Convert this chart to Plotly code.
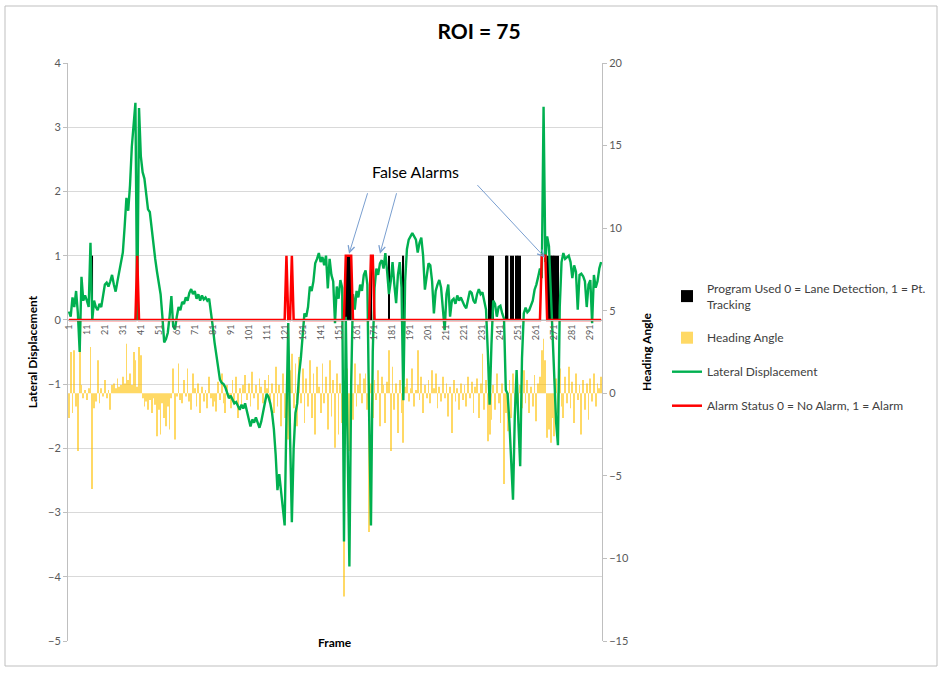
import plotly.graph_objects as go

frames = list(range(1, 298))
tick_labels = [str(v) for v in range(1, 292, 10)]

lateral_displacement = [
    0.13, 0.05, 0.35, 0.20, 0.45, 0.10, -0.50, 0.67, 0.30, 0.38,
    0.30, 0.20, 1.20, 0.00, 0.30, 0.20, 0.15, 0.25, 0.20, 0.35,
    0.55, 0.58, 0.52, 0.60, 0.70, 0.55, 0.44, 0.60, 0.75, 0.90,
    1.05, 1.45, 1.90, 1.70, 2.10, 2.70, 3.05, 3.38, 0.00, 3.30,
    2.55, 2.30, 2.20, 2.00, 1.72, 1.68, 1.40, 1.15, 0.95, 0.75,
    0.58, 0.40, 0.05, -0.35, -0.30, -0.20, 0.05, 0.37, -0.10, -0.15,
    0.05, 0.20, 0.15, 0.28, 0.25, 0.35, 0.30, 0.42, 0.48, 0.40,
    0.45, 0.33, 0.40, 0.30, 0.38, 0.32, 0.35, 0.30, 0.33, 0.15,
    -0.10, -0.35, -0.52, -0.75, -0.93, -0.98, -1.00, -1.05, -1.12, -1.22,
    -1.18, -1.25, -1.30, -1.28, -1.35, -1.40, -1.32, -1.38, -1.30, -1.42,
    -1.50, -1.66, -1.55, -1.60, -1.52, -1.62, -1.68, -1.58, -1.45, -1.30,
    -1.15, -1.20, -1.30, -1.45, -1.70, -2.10, -2.65, -2.40, -2.70, -2.90,
    -3.20, -1.50, -0.05, -1.80, -3.15, -2.00, -1.45, -1.30, -0.85, -0.60,
    -0.20, 0.10, 0.05, 0.20, 0.52, 0.45, 0.60, 0.88, 0.95, 1.04,
    0.90, 0.98, 0.85, 1.00, 0.49, 0.95, 0.70, 0.60, -0.05, 0.52,
    0.33, 0.62, 0.50, -3.45, 0.05, -2.00, -3.84, -1.00, 0.40, 0.16,
    0.45, 0.35, 0.55, 0.45, 0.70, 0.77, 0.55, -1.50, -3.20, -0.50,
    0.50, 0.80, 0.70, 0.88, 0.93, 0.80, 1.04, 0.75, 0.40, 0.60,
    0.90, 0.55, 0.26, 0.70, 0.90, 0.50, -1.25, 0.60, 1.10, 1.25,
    1.30, 1.35, 1.30, 1.25, 1.05, 1.20, 1.28, 1.00, 0.47, 0.70,
    0.88, 0.85, 0.60, 0.10, 0.45, 0.55, 0.62, 0.50, 0.20, -0.16,
    0.40, 0.55, 0.05, 0.30, 0.33, 0.25, 0.38, 0.30, 0.35, 0.28,
    0.22, 0.18, 0.30, 0.45, 0.42, 0.30, 0.26, 0.40, 0.48, 0.40,
    0.43, 0.30, 0.16, -0.50, -1.32, -0.40, 0.30, 0.25, 0.05, 0.20,
    0.22, 0.10, 0.02, -1.09, -1.15, -1.60, -2.18, -2.80, -1.50, -0.78,
    -1.60, -2.28, -0.60, 0.10, 0.19, 0.12, 0.15, 0.22, 0.30, 0.47,
    0.55, 0.67, 0.80, 0.65, 3.32, 0.90, 1.30, 1.15, 0.50, -0.40,
    -1.00, -1.60, -1.95, 0.20, 0.90, 1.04, 0.95, 0.98, 1.00, 0.90,
    0.65, 0.85, 0.75, 0.16, 0.70, 0.72, 0.68, 0.60, 0.20, 0.55,
    0.62, -0.05, 0.70, 0.50, 0.60, 0.80, 0.90,
]

heading_angle = [
    -1.5, 2.5, -1.2, 2.6, -0.8, -3.5, 2.8, 0.5, -0.3, 0.2,
    -0.4, 0.3, 2.8, -5.8, -0.9, -0.5, 2.0, -0.6, 0.3, -0.2,
    0.8, -0.3, 0.2, -1.0, 0.5, 0.6, 0.3, 0.9, 0.4, 0.5,
    1.0, 0.6, 3.0, 0.8, 1.2, 0.5, 2.5, 2.0, 0.4, 2.8,
    2.3, -0.3, -0.8, -0.5, -1.0, -0.4, -1.2, -0.3, -0.7, -2.6,
    -1.0, -2.5, -0.6, -1.5, -2.0, -0.8, -2.2, -0.3, 1.5, -2.8,
    -0.2, 1.8, -0.4, -0.6, 0.8, -0.2, 1.5, -0.5, -1.0, 1.2,
    0.3, -0.8, 0.6, -1.2, 0.4, -0.5, 0.2, -0.9, 1.0, -0.3,
    -0.8, -0.5, -1.1, 0.7, -0.4, 1.2, -0.6, -1.2, 0.5, -0.3,
    -0.9, 0.8, -0.5, 1.0, -1.5, 0.3, -0.7, 0.5, 1.1, -0.4,
    0.6, -0.8, 1.3, -0.3, 0.5, -1.0, 0.9, 0.4, -0.6, 0.8,
    0.3, 1.1, -0.5, 0.6, -1.2, 1.6, -0.8, 0.5, -2.0, 1.2,
    -1.5, 0.8, -2.8, 1.4, 2.4, -0.9, 1.8, -2.0, 2.2, -0.6,
    1.5, -1.8, 0.9, -0.8, 2.0, -1.5, 1.2, -2.5, 1.6, 0.4,
    -1.2, 1.8, -0.6, 1.0, -2.2, 2.0, -1.4, 0.8, -3.3, 1.2,
    -2.5, 0.6, -1.8, -12.3, -2.0, 1.5, -3.5, 0.8, -1.6, 1.8,
    -0.8, 0.5, 1.2, -0.6, 0.9, 1.2, -1.0, -8.4, 0.6, -1.5,
    0.8, -0.4, 1.4, -2.0, 1.0, 0.5, -1.8, 0.7, 2.6, -3.5,
    1.6, -1.0, 0.6, -2.4, 0.8, -1.2, -3.0, 0.4, 0.9, -0.5,
    0.3, 1.5, -0.8, 0.2, 2.6, -0.4, 1.0, -1.2, 0.5, -0.3,
    0.8, -0.6, 1.4, 0.3, 1.2, -0.9, 0.4, -0.5, 1.0, -0.3,
    0.6, -1.4, 0.4, -2.4, 0.8, -0.5, 0.3, -1.0, 0.6, -0.4,
    0.5, -0.8, 1.0, -0.3, 0.7, -1.2, 0.4, 0.9, -1.5, 0.6,
    2.4, -1.0, 0.8, -2.9, -2.5, -1.6, 0.5, -1.0, 1.2, -0.6,
    -1.8, 0.6, -5.5, -1.2, -2.3, 0.8, -1.5, 1.2, -0.7, 1.0,
    -1.4, 0.5, -0.9, 1.4, -0.6, 0.8, -1.2, 0.4, -0.8, 1.1,
    -1.7, 0.6, 1.0, 2.6, 3.3, 2.0, -2.7, -2.2, -3.0, -1.5,
    -2.6, 0.9, -1.2, 1.5, -0.8, -1.5, 1.0, -0.6, 1.6, -0.9,
    0.7, -1.8, 1.2, -0.4, 0.5, -2.5, 0.8, -1.0, 0.6, -1.6,
    0.9, -0.5, 1.2, -0.8, 0.6, 0.3, 1.0,
]

alarm_frames = [39, 122, 125, 155, 156, 157, 158, 169, 170, 264, 265, 266]
program_frames = [14, 155, 156, 157, 158, 169, 179, 187, 235, 236, 237,
                  244, 245, 247, 248, 250, 251, 252,
                  267, 268, 269, 270, 271, 272, 273]

alarm_status = [1 if f in alarm_frames else 0 for f in frames]
program_used = [1 if f in program_frames else 0 for f in frames]

FONT = "Lato, 'Open Sans', sans-serif"
GRID = "#d9d9d9"
AXIS = "#bfbfbf"
TICK = "#595959"

fig = go.Figure()
fig.add_trace(go.Bar(
    x=frames, y=program_used, name="Program Used 0 = Lane Detection, 1 = Pt.<br>Tracking",
    marker=dict(color="#000000", line=dict(width=0)), width=0.85,
    yaxis="y", legendgroup="a"))
fig.add_trace(go.Bar(
    x=frames, y=heading_angle, name="Heading Angle",
    marker=dict(color="#FFC000", line=dict(width=0)), width=0.45, opacity=0.6,
    yaxis="y2", legendgroup="b"))
fig.add_trace(go.Scatter(
    x=frames, y=lateral_displacement, name="Lateral Displacement", mode="lines",
    line=dict(color="#00B050", width=2.4), yaxis="y3", legendgroup="c"))
fig.add_trace(go.Scatter(
    x=frames, y=alarm_status, name="Alarm Status 0 = No Alarm, 1 = Alarm", mode="lines",
    line=dict(color="#FF0000", width=2.5), yaxis="y3", legendgroup="d"))

# pixel helpers for paper coords (plot area 68..602 x, 63..641 y)
def px_x(p):
    return (p - 68) / 534.0

def px_y(p):
    return (641 - p) / 578.0

annotations = [
    dict(text="False Alarms", x=193.5, y=2.31, xref="x", yref="y3", showarrow=False,
         font=dict(family=FONT, size=16, color="#000000")),
    dict(text="", x=156.8, y=1.03, xref="x", yref="y3", showarrow=True, ax=19, ay=-62,
         arrowhead=5, arrowsize=1.3, arrowwidth=1, arrowcolor="#7a9fd0"),
    dict(text="", x=174.0, y=1.03, xref="x", yref="y3", showarrow=True, ax=17, ay=-62,
         arrowhead=5, arrowsize=1.3, arrowwidth=1, arrowcolor="#7a9fd0"),
    dict(text="", x=265.8, y=0.97, xref="x", yref="y3", showarrow=True, ax=-69, ay=-74,
         arrowhead=5, arrowsize=1.3, arrowwidth=1, arrowcolor="#7a9fd0"),
    dict(text="<b>Frame</b>", x=0.5, y=px_y(652), xref="paper", yref="paper", showarrow=False,
         font=dict(family=FONT, size=12, color="#000000")),
]

fig.update_layout(
    width=940, height=674,
    margin=dict(l=68, r=338, t=63, b=33, autoexpand=False),
    paper_bgcolor="white", plot_bgcolor="white",
    font=dict(family=FONT, size=10, color=TICK),
    title=dict(text="<b>ROI = 75</b>", x=479 / 940, xanchor="center",
               y=1 - 32 / 674, yanchor="middle", font=dict(family=FONT, size=21, color="#000000")),
    barmode="overlay",
    showlegend=True,
    legend=dict(x=px_x(667), y=px_y(274), xanchor="left", yanchor="top",
                font=dict(family=FONT, size=12, color="#404040"),
                tracegroupgap=15, itemwidth=30, bgcolor="rgba(0,0,0,0)"),
    xaxis=dict(range=[0.5, 297.5], tickmode="array", tickvals=list(range(1, 292, 10)),
               ticktext=tick_labels, tickangle=-90, anchor="free", position=5 / 9,
               showline=True, linecolor=AXIS, showgrid=False, zeroline=False, ticks="",
               tickfont=dict(family=FONT, size=9, color=TICK)),
    yaxis=dict(range=[-5, 4], dtick=1, showgrid=True, gridcolor=GRID, zeroline=False,
               showline=True, linecolor=AXIS, ticks="outside", ticklen=4, tickcolor=AXIS,
               tickfont=dict(family=FONT, size=11, color=TICK),
               title=dict(text="<b>Lateral Displacement</b>", standoff=7,
                          font=dict(family=FONT, size=12, color="#000000"))),
    yaxis2=dict(range=[-15, 20], dtick=5, overlaying="y", side="right", showgrid=False,
                zeroline=False, showline=True, linecolor=AXIS, ticks="outside", ticklen=4,
                tickcolor=AXIS, tickfont=dict(family=FONT, size=11, color=TICK),
                title=dict(text="<b>Heading Angle</b>", standoff=14,
                           font=dict(family=FONT, size=12, color="#000000"))),
    yaxis3=dict(range=[-5, 4], overlaying="y", visible=False),
    annotations=annotations,
    shapes=[dict(type="rect", xref="paper", yref="paper",
                 x0=px_x(5), x1=px_x(937), y0=px_y(666), y1=px_y(6),
                 line=dict(color="#bfbfbf", width=1), fillcolor="rgba(0,0,0,0)", layer="below")],
)

fig.write_html("out.html", config={"displayModeBar": False},
               post_script="document.body.style.margin='0';document.body.style.overflow='hidden';")
